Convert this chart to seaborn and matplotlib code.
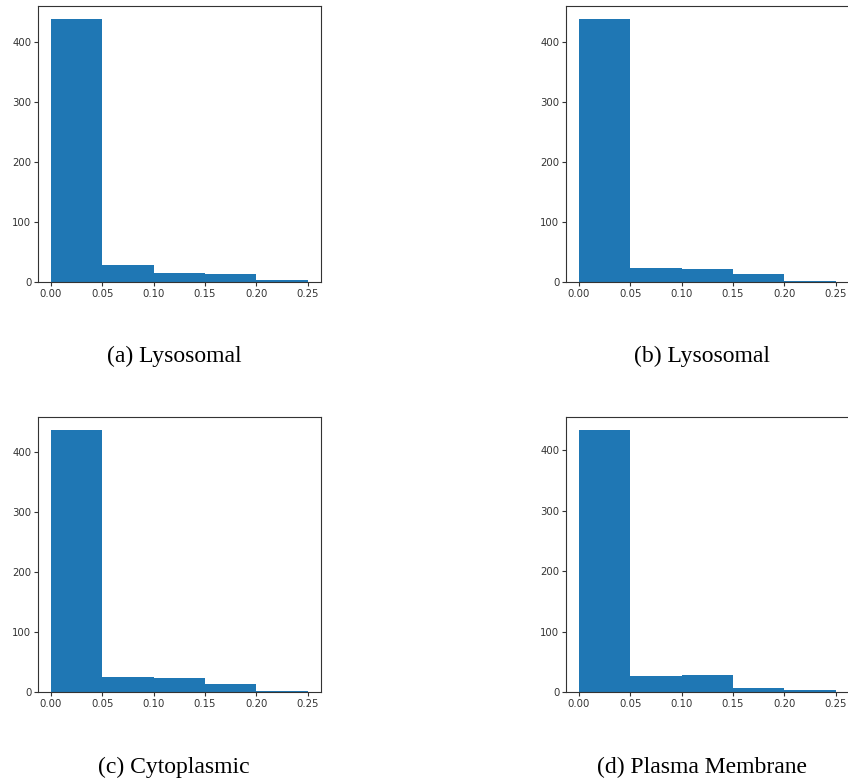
import numpy as np
import pandas as pd
import matplotlib
matplotlib.use("Agg")
import matplotlib.pyplot as plt
import seaborn as sns

# histogram bins shared by all four panels
bin_edges = [0.00, 0.05, 0.10, 0.15, 0.20, 0.25]
tick_values = [0.00, 0.05, 0.10, 0.15, 0.20, 0.25]
tick_labels = ["0.00", "0.05", "0.10", "0.15", "0.20", "0.25"]

# counts per bin
counts_a = [438, 29, 15, 14, 4]
counts_b = [438, 24, 22, 14, 2]
counts_c = [437, 25, 23, 13, 2]
counts_d = [434, 26, 28, 7, 3]

captions = ["(a) Lysosomal", "(b) Lysosomal", "(c) Cytoplasmic", "(d) Plasma Membrane"]

sns.set_style("ticks")
plt.rcParams["axes.edgecolor"] = "#333333"
plt.rcParams["xtick.color"] = "#333333"
plt.rcParams["ytick.color"] = "#333333"

W, H = 848, 781
fig = plt.figure(figsize=(W / 100, H / 100), dpi=100)

# axes boxes in pixels: left, top, right, bottom
boxes = [
    (38.2, 5.7, 320.5, 282.3),
    (566.2, 5.7, 848.5, 282.3),
    (38.2, 416.7, 320.5, 692.0),
    (566.2, 416.7, 848.5, 692.0),
]
caption_pos = [(174, 356), (702, 356), (174, 767), (702, 767)]

centers = [(bin_edges[i] + bin_edges[i + 1]) / 2 for i in range(len(bin_edges) - 1)]

for counts, box, cap, cpos in zip([counts_a, counts_b, counts_c, counts_d], boxes, captions, caption_pos):
    l, t, r, b = box
    ax = fig.add_axes([l / W, 1 - b / H, (r - l) / W, (b - t) / H])
    df = pd.DataFrame({"value": centers, "count": counts})
    sns.histplot(data=df, x="value", weights="count", bins=bin_edges, ax=ax,
                 color="#1f77b4", alpha=1.0, linewidth=0, edgecolor="none")
    ax.set_xlim(-0.0125, 0.2625)
    ax.set_ylim(0, max(counts) * 1.05)
    ax.set_xticks(tick_values)
    ax.set_xticklabels(tick_labels)
    ax.set_yticks([0, 100, 200, 300, 400])
    ax.tick_params(labelsize=7.3, length=3, width=0.8, pad=2)
    ax.set_xlabel("")
    ax.set_ylabel("")
    for s in ax.spines.values():
        s.set_visible(True)
        s.set_linewidth(0.8)
    fig.text(cpos[0] / W, 1 - cpos[1] / H, cap, ha="center", va="center",
             fontsize=17, family="Liberation Serif", color="black")

fig.savefig("out.png", dpi=100)
